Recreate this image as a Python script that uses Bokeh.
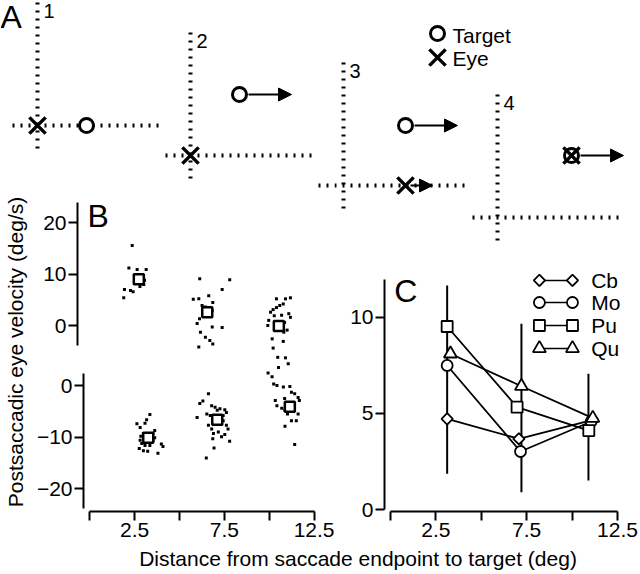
import numpy as np
from bokeh.plotting import figure
from bokeh.models import Range1d, Label, ColumnDataSource, Arrow, NormalHead, FixedTicker
from bokeh.layouts import row, column
from bokeh.embed import file_html
from bokeh.resources import INLINE
from bokeh.core.properties import value

FONT = "Liberation Sans"

# ---------------- data ----------------
# Panel A: schematic of the four trial types (schematic screen units)
trial_names = ["1", "2", "3", "4"]
fix_x = [37, 190, 343, 497]
fix_y = [125, 155, 185, 217]
target_dx = [49, 49, 62, 74]
target_dy = [0, -61, -60, -62]
eye_dx = [0, 0, 62, 74]
eye_dy = [0, 0, 0, -62]
target_moves = [False, True, True, True]
eye_moves = [False, False, True, False]
legend_a = ["Target", "Eye"]

# Panel B: individual trials (upper: one direction, lower: other)
b_up_x = [2.63, 2.45, 2.90, 3.39, 3.17, 3.26, 3.30, 2.21, 2.68, 2.54, 2.17, 2.85, 3.05,
          6.30, 7.93, 7.52, 5.95, 6.25, 6.79, 6.43, 6.61, 7.01, 6.98, 6.29, 6.16, 6.98, 7.52,
          6.34, 6.61, 6.85, 7.01, 6.25,
          10.47, 10.96, 11.23, 10.15, 10.29, 10.47, 10.65, 10.84, 11.14, 11.23, 10.05, 10.00,
          10.91, 10.87, 10.24, 10.84, 10.29, 10.54, 10.96, 11.05, 10.35, 10.75]
b_up_y = [15.6, 11.2, 10.9, 10.9, 9.6, 8.0, 8.8, 7.0, 6.6, 6.8, 5.4, 9.9, 7.6,
          9.1, 8.9, 7.0, 5.1, 5.2, 5.8, 3.9, 3.6, 4.5, 2.9, 1.3, 0.4, -0.3, -0.4,
          -1.3, -2.3, -2.9, -3.6, -4.2,
          5.2, 5.2, 5.4, 2.6, 3.1, 3.5, 3.9, 4.2, 2.3, 1.6, 1.0, 0.0,
          0.6, -1.3, -2.6, -3.1, -4.4, -6.2, -6.3, -0.9, 1.9, 2.0]
b_up_mean_x = [2.99, 6.71, 10.60]
b_up_mean_y = [9.0, 2.6, -0.1]

b_lo_x = [3.35, 3.17, 3.08, 2.63, 2.81, 3.62, 2.99, 3.53, 2.81, 2.90, 2.76, 2.99, 3.23, 3.80,
          3.99, 4.08, 3.53, 3.35, 3.08, 3.62, 2.85, 3.45,
          6.61, 6.13, 6.30, 6.79, 6.98, 7.25, 7.52, 7.61, 5.98, 6.52, 6.71, 6.89, 7.43, 6.61,
          6.79, 7.34, 7.61, 7.70, 6.89, 7.16, 7.34, 7.52, 7.79, 6.85, 6.92, 6.49, 7.10, 7.43,
          10.51, 11.05, 9.93, 10.15, 10.24, 10.42, 10.78, 11.14, 11.23, 11.41, 11.60, 10.33,
          10.85, 10.42, 10.87, 11.01, 11.40, 11.60, 11.67, 11.23, 11.50, 10.87, 11.41, 10.69, 11.23]
b_lo_y = [-5.6, -6.6, -7.3, -7.4, -8.1, -8.7, -9.3, -9.3, -10.6, -11.2, -12.2, -12.6, -12.7, -13.1,
          -11.3, -11.8, -10.6, -11.6, -11.6, -10.1, -9.8, -9.9,
          -1.6, -3.5, -3.0, -3.9, -4.2, -4.5, -4.7, -5.2, -6.2, -5.5, -5.8, -6.1, -5.8, -7.7,
          -8.4, -7.4, -7.7, -8.4, -9.3, -9.0, -9.9, -9.5, -10.8, -10.3, -12.1, -14.0, -4.8, -6.8,
          3.5, 4.2, 2.4, 1.7, 0.3, 0.0, -0.3, -0.2, -1.3, -1.6, -2.3, -2.9,
          -2.5, -3.9, -4.8, -5.5, -4.8, -5.5, -2.9, -6.8, -6.8, -7.9, -11.4, -4.4, -3.3]
b_lo_mean_x = [3.26, 7.10, 11.14]
b_lo_mean_y = [-10.1, -6.6, -4.1]

b_up_ticks = [0, 10, 20]
b_lo_ticks = [-20, -10, 0]
x_ticks = [0, 2.5, 5, 7.5, 10, 12.5]
x_tick_labels = ["", "2.5", "", "7.5", "", "12.5"]

# Panel C: per-monkey means
monkeys = ["Cb", "Mo", "Pu", "Qu"]
cb_x = [3.12, 7.07, 11.14]
cb_y = [4.72, 3.68, 4.67]
mo_x = [3.12, 7.16, 11.05]
mo_y = [7.50, 3.02, 4.58]
pu_x = [3.12, 6.97, 10.92]
pu_y = [9.53, 5.33, 4.11]
qu_x = [3.30, 7.21, 11.14]
qu_y = [8.11, 6.42, 4.76]
err_x = [3.12, 7.21, 10.90]
err_lo = [1.86, 0.90, 1.51]
err_hi = [11.67, 9.67, 7.07]
c_ticks = [0, 5, 10]


# ---------------- helpers ----------------
def base_fig(w, h, xr, yr, **kw):
    p = figure(width=w, height=h, x_range=xr, y_range=yr, output_backend="svg",
               toolbar_location=None, **kw)
    p.frame_align = False
    p.outline_line_color = None
    p.background_fill_color = "white"
    p.border_fill_color = "white"
    p.grid.visible = False
    return p


def style_axis(ax, ticks, bounds, overrides=None):
    ax.ticker = FixedTicker(ticks=ticks, minor_ticks=[])
    ax.bounds = bounds
    ax.axis_line_width = 2
    ax.axis_line_color = "black"
    ax.major_tick_line_width = 2
    ax.major_tick_line_color = "black"
    ax.major_tick_out = 9
    ax.major_tick_in = 0
    ax.minor_tick_out = 0
    ax.minor_tick_in = 0
    ax.major_label_text_font = FONT
    ax.major_label_text_font_size = "21px"
    ax.major_label_text_color = "black"
    ax.major_label_standoff = 2
    if overrides is not None:
        ax.major_label_overrides = overrides


def add_texts(p, xs, ys, texts, size, xmin, xmax):
    keep = [i for i, x in enumerate(xs) if xmin <= x < xmax]
    if not keep:
        return
    p.text(x=[xs[i] for i in keep], y=[ys[i] for i in keep], text=[texts[i] for i in keep],
           text_font=value(FONT), text_font_size=size, text_color="black",
           text_align="left", text_baseline="middle")


def draw_panel_a(p, xmin, xmax):
    vy0 = [y - 123 for y in fix_y]
    vy1 = [y + 25 for y in fix_y]
    p.segment(x0=fix_x, y0=vy0, x1=fix_x, y1=vy1, line_color="black",
              line_width=4, line_dash="2 6")
    hx0 = [x - 25 for x in fix_x]
    hx1 = [x + 123 for x in fix_x]
    p.segment(x0=hx0, y0=fix_y, x1=hx1, y1=fix_y, line_color="black",
              line_width=4, line_dash="2 6")
    tx = [a + b for a, b in zip(fix_x, target_dx)]
    ty = [a + b for a, b in zip(fix_y, target_dy)]
    ex = [a + b for a, b in zip(fix_x, eye_dx)]
    ey = [a + b for a, b in zip(fix_y, eye_dy)]
    ax0 = [x + 9 for x, m in zip(tx, target_moves) if m] + [x + 5 for x, m in zip(ex, eye_moves) if m]
    ax1 = [x + 52 for x, m in zip(tx, target_moves) if m] + [x + 27 for x, m in zip(ex, eye_moves) if m]
    ay = [y for y, m in zip(ty, target_moves) if m] + [y for y, m in zip(ey, eye_moves) if m]
    src = ColumnDataSource(dict(x0=ax0, x1=ax1, y=ay))
    p.add_layout(Arrow(end=NormalHead(size=13, fill_color="black", line_color="black"),
                       x_start="x0", y_start="y", x_end="x1", y_end="y", source=src,
                       line_width=2, line_color="black"))
    p.scatter(tx, ty, marker="circle", size=14, line_width=3, line_color="black",
              fill_color="white")
    p.scatter(ex, ey, marker="x", size=23, line_width=3.5, line_color="black")
    add_texts(p, [x + 6 for x in fix_x], [y - 115 for y in fix_y], trial_names, "20px",
              xmin, xmax)
    # legend
    p.scatter([437], [33], marker="circle", size=14, line_width=3, line_color="black",
              fill_color="white")
    p.scatter([437], [57], marker="x", size=23, line_width=3.5, line_color="black")
    add_texts(p, [452, 452], [34.5, 57.5], legend_a, "21px", xmin, xmax)
    add_texts(p, [0], [16.5], ["A"], "32px", xmin, xmax)


# ---------------- panel A (split into two canvases) ----------------
a_left = base_fig(334, 195, Range1d(0, 334), Range1d(195, 0),
                  x_axis_location=None, y_axis_location=None, min_border=0)
draw_panel_a(a_left, 0, 334)
a_right = base_fig(304, 258, Range1d(334, 638), Range1d(258, 0),
                   x_axis_location=None, y_axis_location=None, min_border=0)
draw_panel_a(a_right, 334, 638)

# ---------------- panel B ----------------
b_xr = Range1d(-0.342, 13.625)
bu = base_fig(301, 165, b_xr, Range1d(-6.82, 25.34), x_axis_location=None,
              min_border_left=44, min_border_right=0, min_border_top=0, min_border_bottom=0)
style_axis(bu.yaxis[0], b_up_ticks, (-3.9, 24))
bu.scatter(b_up_x, b_up_y, marker="square", size=3, fill_color="black", line_color=None)
bu.scatter(b_up_mean_x, b_up_mean_y, marker="square", size=10, fill_color="white",
           line_color="black", line_width=2.5)
bu.add_layout(Label(x=0.2, y=21.44, text="B", text_font=FONT, text_font_size="32px",
                    text_color="black", text_baseline="middle", text_align="left"))

bl = base_fig(301, 186, b_xr, Range1d(-24.37, 4.836),
              min_border_left=44, min_border_right=0, min_border_top=0, min_border_bottom=35)
style_axis(bl.yaxis[0], b_lo_ticks, (-23.8, 2.3))
style_axis(bl.xaxis[0], x_ticks, (0, 12.5), dict(zip(x_ticks, x_tick_labels)))
bl.scatter(b_lo_x, b_lo_y, marker="square", size=3, fill_color="black", line_color=None)
bl.scatter(b_lo_mean_x, b_lo_mean_y, marker="square", size=10, fill_color="white",
           line_color="black", line_width=2.5)

ylab = base_fig(33, 351, Range1d(0, 33), Range1d(0, 351), x_axis_location=None,
                y_axis_location=None, min_border=0)
ylab.text(x=[14.5], y=[194.5], text=["Postsaccadic eye velocity (deg/s)"], angle=np.pi / 2,
          text_font=value(FONT), text_font_size="21px", text_color="black",
          text_align="center", text_baseline="middle")

# ---------------- panel C ----------------
c = base_fig(304, 288, Range1d(-0.330, 13.656), Range1d(-0.104, 13.07),
             min_border_left=50, min_border_right=0, min_border_top=0, min_border_bottom=35)
style_axis(c.yaxis[0], c_ticks, (0, 12))
style_axis(c.xaxis[0], x_ticks, (0, 12.5), dict(zip(x_ticks, x_tick_labels)))
c.segment(x0=err_x, y0=err_lo, x1=err_x, y1=err_hi, line_color="black", line_width=2)
series = [(cb_x, cb_y, "square", 8, np.pi / 4),
          (mo_x, mo_y, "circle", 11, 0),
          (pu_x, pu_y, "square", 11, 0),
          (qu_x, qu_y, "triangle", 13, 0)]
for xs, ys, mk, sz, ang in series:
    c.line(xs, ys, line_color="black", line_width=1.8)
for xs, ys, mk, sz, ang in series:
    c.scatter(xs, ys, marker=mk, size=sz, angle=ang, line_color="black", line_width=1.8,
              fill_color="white")
leg_y = [11.93, 10.78, 9.58, 8.39]
leg_x = [8.2, 10.02]
for (xs, ys, mk, sz, ang), name, yy in zip(series, monkeys, leg_y):
    c.line(leg_x, [yy, yy], line_color="black", line_width=1.5)
    c.scatter(leg_x, [yy, yy], marker=mk, size=sz, angle=ang, line_color="black",
              line_width=1.8, fill_color="white")
c.text(x=[11.05] * 4, y=leg_y, text=monkeys, text_font=value(FONT), text_font_size="21px",
       text_color="black", text_align="left", text_baseline="middle")
c.add_layout(Label(x=0.2, y=11.38, text="C", text_font=FONT, text_font_size="32px",
                   text_color="black", text_baseline="middle", text_align="left"))

# ---------------- shared x label ----------------
strip = base_fig(638, 26, Range1d(0, 638), Range1d(0, 26), x_axis_location=None,
                 y_axis_location=None, min_border=0)
strip.text(x=[357.5], y=[14.5], text=["Distance from saccade endpoint to target (deg)"],
           text_font=value(FONT), text_font_size="21px", text_color="black",
           text_align="center", text_baseline="middle")

left_col = column(a_left, row(ylab, column(bu, bl)))
right_col = column(a_right, c)
layout = column(row(left_col, right_col), strip)

open("out.html", "w").write(file_html(layout, INLINE))
